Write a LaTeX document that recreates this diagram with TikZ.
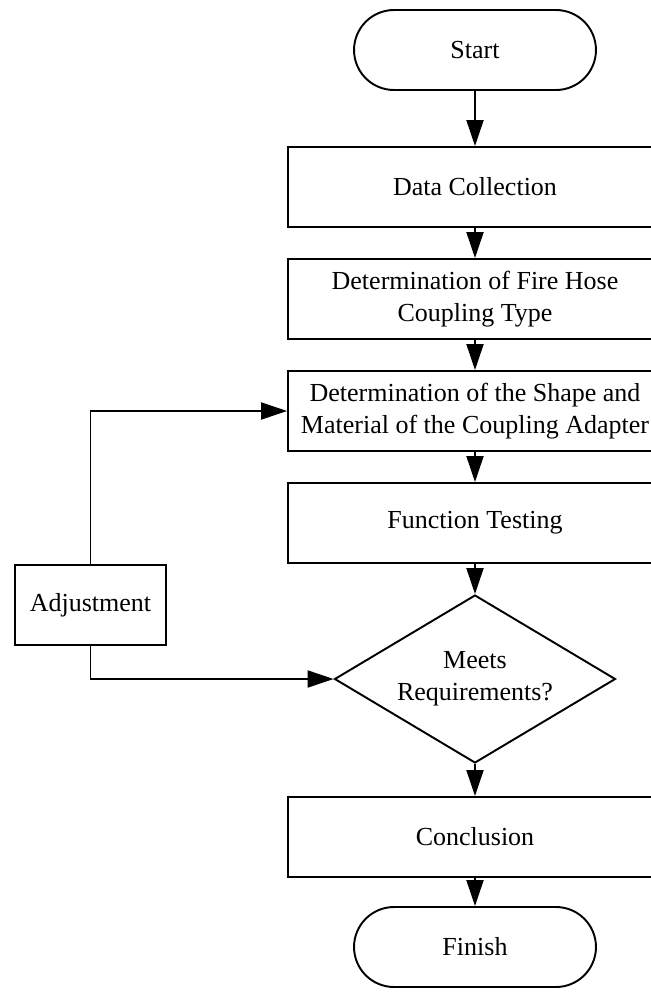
\documentclass[tikz,border=0pt]{standalone}
\usepackage{fontspec}
\setmainfont{Liberation Serif}
\usepackage{tikz}
\usetikzlibrary{arrows.meta}
\usetikzlibrary{shapes.geometric}

\tikzset{
    box/.style={draw, line width=1.1pt, minimum width=7.48cm, minimum height=1.6cm, align=center, inner sep=0pt},
    term/.style={draw, line width=1.1pt, minimum width=4.84cm, minimum height=1.6cm, rounded corners=0.8cm, inner sep=0pt},
    decide/.style={draw, diamond, aspect=1.67, line width=1.1pt, minimum width=5.62cm, minimum height=3.36cm, align=center, inner sep=0pt},
    arr/.style={line width=1.1pt, -{Triangle[length=0.52cm,width=0.34cm]}},
}

\begin{document}
\begin{tikzpicture}[x=0.02cm, y=-0.02cm, font=\fontsize{14.8pt}{18.2pt}\selectfont]
    \useasboundingbox (0,0) rectangle (651,998);

    % main column
    \node[term] (start) at (475,50) {Start};
    \node[box] (data) at (475,187) {Data Collection};
    \node[box] (hose) at (475,299) {Determination of Fire Hose\\Coupling Type};
    \node[box] (design) at (475,411) {Determination of the Shape and\\Material of the Coupling Adapter};
    \node[box] (test) at (475,523) {Function Testing};
    \node[decide] (meets) at (475,679) {Meets\\Requirements?};
    \node[box] (concl) at (475,837) {Conclusion};
    \node[term] (finish) at (475,947) {Finish};

    % side box
    \node[box, minimum width=3.02cm] (adjust) at (90.5,605) {Adjustment};

    \draw[arr] (start) -- (data);
    \draw[arr] (data) -- (hose);
    \draw[arr] (hose) -- (design);
    \draw[arr] (design) -- (test);
    \draw[arr] (test) -- (meets);
    \draw[arr] (meets) -- (concl);
    \draw[arr] (concl) -- (finish);

    % feedback lines
    \draw[arr] (adjust.north) |- (design.west);
    \draw[arr] (adjust.south) |- (meets.west);

\end{tikzpicture}
\end{document}
